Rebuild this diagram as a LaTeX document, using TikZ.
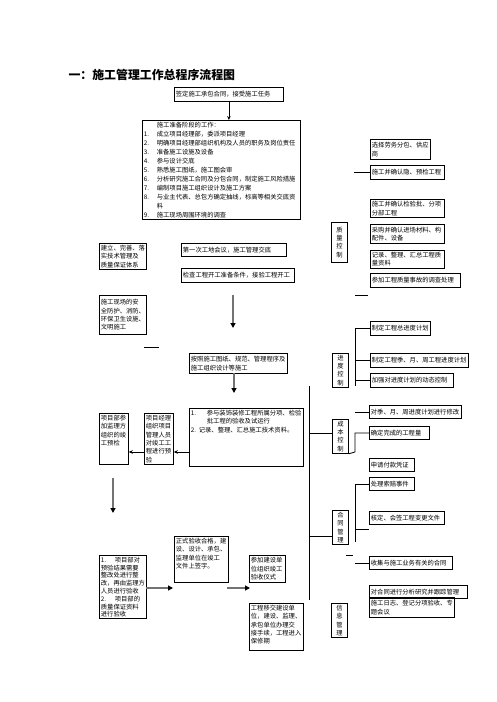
\documentclass[tikz,border=0pt]{standalone}
\usepackage{fontspec}
\setmainfont{Noto Sans CJK SC}
\usetikzlibrary{arrows.meta}
\newcommand{\zi}{\fontsize{6.3pt}{8.4pt}\selectfont}
\newcommand{\zib}{\fontsize{6.3pt}{9pt}\selectfont}
\newcommand{\zic}{\fontsize{6.3pt}{7.8pt}\selectfont}
\tikzset{
  %% boxes: placed by their top left corner, as in the page layout
  kuang/.style   = {draw, line width=0.8pt, anchor=north west, align=left,
                    inner sep=1.5pt, font=\zi},
  shu/.style     = {kuang, align=center, text width=13pt},
  %% lines and arrows
  xian/.style    = {line width=0.8pt},
  jiantou/.style = {-{Stealth[length=4pt, width=3.6pt]}, line width=0.8pt},
  cujiantou/.style = {-{Triangle[length=5pt, width=5pt, color=black]},
                    draw=black!55, line width=1.8pt},
}

\begin{document}
\begin{tikzpicture}[x=1pt, y=-1pt]
\useasboundingbox (0,0) rectangle (496,702);

\node[anchor=west, font=\fontsize{11.9pt}{14pt}\selectfont\bfseries] (biaoti) at (65,75)
     {一：施工管理工作总程序流程图};

% middle column
\node[kuang, text width=106pt, minimum height=14pt] (qianding) at (174,87)
     {签定施工承包合同，接受施工任务};
\node[kuang, font=\zib, text width=155pt, minimum height=92pt] (zhunbei) at (142,120)
     {\hspace*{13pt}施工准备阶段的工作：\\
      \makebox[13pt][l]{1.}成立项目经理部，委派项目经理\\
      \makebox[13pt][l]{2.}明确项目经理部组织机构及人员的职务及岗位责任\\
      \makebox[13pt][l]{3.}准备施工设施及设备\\
      \makebox[13pt][l]{4.}参与设计交底\\
      \makebox[13pt][l]{5.}熟悉施工图纸，施工图会审\\
      \makebox[13pt][l]{6.}分析研究施工合同及分包合同，制定施工风险措施\\
      \makebox[13pt][l]{7.}编制项目施工组织设计及施工方案\\
      \makebox[13pt][l]{8.}与业主代表、总包方确定抽线，标高等相关交底资\\
      \hspace*{13pt}料\\
      \makebox[13pt][l]{9.}施工现场周围环境的调查};
\draw[jiantou] (qianding.south) -- (qianding.south |- zhunbei.north);

\node[kuang, text width=44pt, minimum height=26pt] (tixi) at (99,243)
     {建立、完善、落\\实技术管理及\\质量保证体系};
\node[kuang, text width=102pt, minimum height=13pt] (huiyi) at (181,243)
     {第一次工地会议，施工管理交底};
\node[kuang, text width=110pt, minimum height=14pt] (jiancha) at (181,268)
     {检查工程开工准备条件，接验工程开工};
\node[kuang, text width=44pt, minimum height=39pt] (anquan) at (99,295)
     {施工现场的安\\全防护、消防、\\环保卫生设施、\\文明施工};
\node[kuang, text width=95pt, minimum height=20pt] (anzhao) at (189,353)
     {按照施工图纸、规范、管理程序及\\施工组织设计等施工};
\node[kuang, text width=111pt, text depth=49.5pt] (yanshou) at (189,408)
     {\makebox[16pt][l]{1.}参与装饰装修工程所属分项、检验\\
      \hspace*{16pt}批工程的验收及试运行\\
      \makebox[8pt][l]{2.}记录、整理、汇总施工技术资料。};
\node[kuang, text width=26pt, minimum height=51pt] (jingli) at (144,413)
     {项目经理\\组织项目\\管理人员\\对竣工工\\程进行预\\验};
\node[kuang, text width=26pt, text depth=42.5pt] (xiangmubu) at (99,413)
     {项目部参\\加监理方\\组织的竣\\工预检};
\draw[jiantou] (yanshou.west |- 0,452) -- (jingli.east |- 0,452);
\draw[jiantou] (jingli.west |- 0,452) -- (xiangmubu.east |- 0,452);

\node[kuang, font=\zic, text width=44pt, minimum height=62pt] (zhenggai) at (99,555)
     {\makebox[14pt][l]{1.}项目部对\\预验结果需要\\整改处进行整\\改，再由监理方\\人员进行验收\\
      \makebox[14pt][l]{2.}项目部的\\质量保证资料\\进行验收};
\node[kuang, text width=51pt, text depth=37.5pt] (qianzi) at (174,536)
     {正式验收合格，建\\设、设计、承包、\\监理单位在竣工\\文件上签字。};
\node[kuang, text width=33pt, minimum height=27pt] (yishi) at (249,555)
     {参加建设单\\位组织竣工\\验收仪式};
\node[kuang, text width=51pt, text depth=38.5pt] (yijiao) at (249,603)
     {工程移交建设单\\位，建设、监理、\\承包单位办理交\\接手续，工程进入\\保修期};

% thick grey arrows, their ends stand free of the boxes
\coordinate (g1a) at (233,295); \coordinate (g1b) at (233,328);
\coordinate (g2a) at (234,373); \coordinate (g2b) at (234,393);
\coordinate (g3a) at (113,478); \coordinate (g3b) at (113,513);
\coordinate (g4a) at (146,588); \coordinate (g4b) at (173,588);
\coordinate (g5a) at (227,588); \coordinate (g5b) at (250,588);
\draw[cujiantou] (g1a) -- (g1b);
\draw[cujiantou] (g2a) -- (g2b);
\draw[cujiantou] (g3a) -- (g3b);
\draw[cujiantou] (g4a) -- (g4b);
\draw[cujiantou] (g5a) -- (g5b);
\coordinate (d1a) at (144,347); \coordinate (d1b) at (159,347);
\draw[xian] (d1a) -- (d1b);

% control labels and the main stem
\node[shu, minimum height=40pt] (zhiliang) at (331,222) {质\\量\\控\\制};
\node[shu, minimum height=33pt] (jindu)    at (332,353) {进\\度\\控\\制};
\node[shu, minimum height=33pt] (chengben) at (332,419) {成\\本\\控\\制};
\node[shu, minimum height=33pt] (hetong)   at (332,510) {合\\同\\管\\理};
\node[shu, minimum height=33pt] (xinxi)    at (331,603) {信\\息\\管\\理};
\coordinate (zhu1) at (309,386); \coordinate (zhu2) at (309,600);
\draw[xian] (zhu1) -- (zhu2);
\draw[xian] ([yshift=3pt]chengben.west) -- ([yshift=3pt]chengben.west -| zhu1);
\draw[xian] ([yshift=-9pt]hetong.west) -- ([yshift=-9pt]hetong.west -| zhu1);

% right column: quality
\node[kuang, text width=57pt, minimum height=20pt] (q1) at (370,139) {选择劳务分包、供应\\商};
\node[kuang, text width=71pt, minimum height=14pt] (q2) at (370,165) {施工并确认隐、预检工程};
\node[kuang, text width=71pt, minimum height=18pt] (q3) at (370,199) {施工并确认检验批、分项\\分部工程};
\node[kuang, text width=71pt, minimum height=19pt] (q4) at (370,224) {采购并确认进场材料、构\\配件、设备};
\node[kuang, text width=71pt, minimum height=18pt] (q5) at (370,250) {记录、整理、汇总工程质\\量资料};
\node[kuang, text width=87pt, minimum height=14pt] (q6) at (370,273) {参加工程质量事故的调查处理};
\draw[xian] (q2.west) -- ++(-16,0);
\coordinate (d2a) at (355,295); \coordinate (d2b) at (368,295);
\draw[xian] (d2a) -- (d2b);

% progress
\node[kuang, text width=57pt, minimum height=14pt] (p1) at (370,321) {制定工程总进度计划};
\node[kuang, text width=95pt, minimum height=14pt] (p2) at (370,353) {制定工程季、月、周工程进度计划};
\node[kuang, text width=80pt, minimum height=14pt] (p3) at (370,373) {加强对进度计划的动态控制};
\coordinate (jd) at (355,386);
\draw[xian] (p1.west) -| (jd);
\draw[xian] (p2.west) -- (p2.west -| jd);
\draw[xian] (p3.west) -- (p3.west -| jd);

% cost
\node[kuang, text width=89pt, minimum height=13pt] (c1) at (369,405) {对季、月、周进度计划进行修改};
\node[kuang, text width=57pt, minimum height=13pt] (c2) at (369,426) {确定完成的工程量};
\node[kuang, text width=42pt, minimum height=13pt] (c3) at (369,458) {申请付款凭证};
\node[kuang, text width=42pt, minimum height=13pt] (c4) at (369,477) {处理索赔事件};
\draw[xian] (c1.west) -- ++(-14,0);
\coordinate (cb) at (355,452);
\draw[xian] (c2.west) -| (cb) -- (chengben.south east);

% contract and information
\node[kuang, text width=72pt, minimum height=13pt] (k1) at (369,511) {核定、会签工程变更文件};
\node[kuang, text width=80pt, minimum height=13pt] (k2) at (369,556) {收集与施工业务有关的合同};
\node[kuang, text width=95pt, minimum height=13pt] (k3) at (369,585) {对合同进行分析研究并跟踪管理};
\node[kuang, text width=82pt, minimum height=20pt] (k4) at (369,597) {施工日志、登记分项验收、专\\题会议};
\coordinate (ht) at (355,542);
\draw[xian] (c4.west) -| (ht);
\coordinate (d3a) at (355,529); \coordinate (d3b) at (369,529);
\draw[xian] (d3a) -- (d3b);
\coordinate (d4a) at (346,555); \coordinate (d4b) at (353,555);
\draw[xian] (d4a) -- (d4b);
\draw[xian] (k2.west) -- ++(-14,0);

\end{tikzpicture}
\end{document}
